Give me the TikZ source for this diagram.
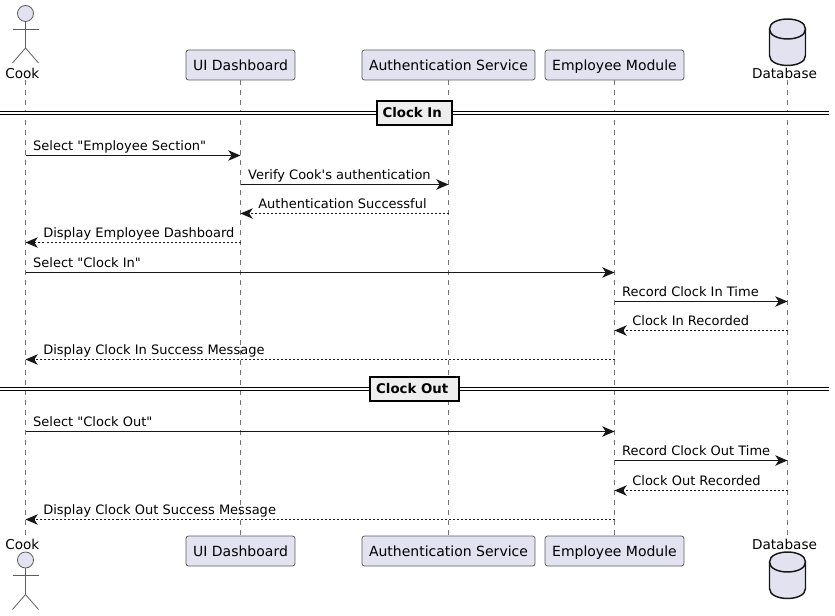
\documentclass[tikz,border=0pt]{standalone}
\usepackage{fontspec}
\setmainfont{DejaVu Sans}[Ligatures=TeXOff]
\usetikzlibrary{arrows.meta}
\definecolor{boxfill}{HTML}{E2E2F0}
\definecolor{ink}{HTML}{181818}
\definecolor{divfill}{HTML}{EEEEEE}
\tikzset{
  party/.style={draw=ink!70,line width=0.6pt,fill=boxfill,rounded corners=1.9pt,
    minimum height=22.5pt,inner xsep=5.3pt,inner ysep=0pt,text height=7.6pt,text depth=0pt,
    font=\fontsize{10.5pt}{12pt}\selectfont},
  partytext/.style={inner sep=0pt,font=\fontsize{10.2pt}{12pt}\selectfont},
  lifeline/.style={draw=ink!60,line width=0.4pt,dash pattern=on 3.75pt off 3.75pt},
  msg/.style={draw=ink,line width=0.75pt,-{Stealth[length=9.2pt,width=7.8pt,inset=2.6pt]}},
  reply/.style={msg,dash pattern=on 1.5pt off 1.5pt},
  msgtext/.style={inner sep=0pt,anchor=base west,font=\fontsize{9.75pt}{12pt}\selectfont},
  fwd/.style={msgtext,pos=0,xshift=5.4pt,yshift=3.4pt},
  back/.style={msgtext,pos=1,xshift=13pt,yshift=3.4pt},
  divline/.style={draw=black,line width=0.75pt,double=white,double distance=1.5pt},
  divbox/.style={draw=black,line width=1.5pt,fill=divfill,minimum height=17.5pt,inner xsep=4.5pt,
    inner ysep=0pt,font=\fontsize{10pt}{12pt}\selectfont\bfseries},
  actorline/.style={draw=ink!70,line width=0.6pt},
  dbline/.style={draw=ink,line width=1.1pt,fill=boxfill}
}
\begin{document}
\begin{tikzpicture}[x=0.75pt,y=-0.75pt]
    \useasboundingbox (0,0) rectangle (835,616);
    % top row
    \coordinate (cookTop) at (25.5,80);
    \node[party] (uiTop) at (240.5,65) {UI Dashboard};
    \node[party] (authTop) at (448.5,65) {Authentication Service};
    \node[party] (empTop) at (614.5,65) {Employee Module};
    \coordinate (dbTop) at (787.5,80);
    % bottom row
    \coordinate (cookBot) at (25.5,538);
    \node[party] (uiBot) at (240.5,551) {UI Dashboard};
    \node[party] (authBot) at (448.5,551) {Authentication Service};
    \node[party] (empBot) at (614.5,551) {Employee Module};
    \coordinate (dbBot) at (787.5,538);
    % lifelines
    \foreach \lane in {cook,ui,auth,emp,db}
      \draw[lifeline] (\lane Top) -- (\lane Bot);
    % names of the actor and the database
    \node[partytext] (cookName) at (22.3,73) {Cook};
    \node[partytext] (dbName) at (784.5,73) {Database};
    \node[partytext] (cookNameBot) at (22.3,544) {Cook};
    \node[partytext] (dbNameBot) at (784.5,544) {Database};
    % rows of the messages
    \foreach \row/\y in {1/155.5,2/184.5,3/213.5,4/242.5,5/272.5,6/301.5,
                         7/330.5,8/359.5,9/431.5,10/460.5,11/490.5,12/519.5} {
      \coordinate (cook-\row) at (25.5,\y);
      \coordinate (ui-\row) at (240.5,\y);
      \coordinate (auth-\row) at (448.5,\y);
      \coordinate (emp-\row) at (614.5,\y);
      \coordinate (db-\row) at (787.5,\y);
    }
    % actor, top
    \begin{scope}[shift={(25.5,0)}]
      \draw[actorline,fill=boxfill] (0,13.5) circle (8);
      \draw[actorline] (0,21.5) to (0,48);
      \draw[actorline] (-13,29) to (13,29);
      \draw[actorline] (-13,63) to (0,48) to (13,63);
    \end{scope}
    % actor, bottom
    \begin{scope}[shift={(25.5,546.5)}]
      \draw[actorline,fill=boxfill] (0,13.5) circle (8);
      \draw[actorline] (0,21.5) to (0,48);
      \draw[actorline] (-13,29) to (13,29);
      \draw[actorline] (-13,63) to (0,48) to (13,63);
    \end{scope}
    % database, top
    \begin{scope}[shift={(787.5,19)}]
      \draw[dbline] (-18,10) .. controls (-18,-3.3) and (18,-3.3) .. (18,10)
        -- (18,36.5) .. controls (18,49.8) and (-18,49.8) .. (-18,36.5) -- cycle;
      \draw[dbline,fill=none] (-18,10) .. controls (-18,23.3) and (18,23.3) .. (18,10);
    \end{scope}
    % database, bottom
    \begin{scope}[shift={(787.5,552)}]
      \draw[dbline] (-18,10) .. controls (-18,-3.3) and (18,-3.3) .. (18,10)
        -- (18,36.5) .. controls (18,49.8) and (-18,49.8) .. (-18,36.5) -- cycle;
      \draw[dbline,fill=none] (-18,10) .. controls (-18,23.3) and (18,23.3) .. (18,10);
    \end{scope}
    % dividers
    \coordinate (inLeft) at (0,113);
    \coordinate (inRight) at (829,113);
    \coordinate (outLeft) at (0,389);
    \coordinate (outRight) at (829,389);
    \draw[divline] (inLeft) -- (inRight);
    \draw[divline] (outLeft) -- (outRight);
    \node[divbox] (clockIn) at (414.5,113) {Clock In\hspace*{3.4pt}};
    \node[divbox] (clockOut) at (414.5,389) {Clock Out\hspace*{3.4pt}};
    % clock in
    \draw[msg] (cook-1) -- (ui-1) node[fwd] (txt1) {Select "Employee Section"};
    \draw[msg] (ui-2) -- (auth-2) node[fwd] (txt2) {Verify Cook's authentication};
    \draw[reply] (auth-3) -- (ui-3) node[back] (txt3) {Authentication Successful};
    \draw[reply] (ui-4) -- (cook-4) node[back] (txt4) {Display Employee Dashboard};
    \draw[msg] (cook-5) -- (emp-5) node[fwd] (txt5) {Select "Clock In"};
    \draw[msg] (emp-6) -- (db-6) node[fwd] (txt6) {Record Clock In Time};
    \draw[reply] (db-7) -- (emp-7) node[back] (txt7) {Clock In Recorded};
    \draw[reply] (emp-8) -- (cook-8) node[back] (txt8) {Display Clock In Success Message};
    % clock out
    \draw[msg] (cook-9) -- (emp-9) node[fwd] (txt9) {Select "Clock Out"};
    \draw[msg] (emp-10) -- (db-10) node[fwd] (txt10) {Record Clock Out Time};
    \draw[reply] (db-11) -- (emp-11) node[back] (txt11) {Clock Out Recorded};
    \draw[reply] (emp-12) -- (cook-12) node[back] (txt12) {Display Clock Out Success Message};
\end{tikzpicture}
\end{document}
